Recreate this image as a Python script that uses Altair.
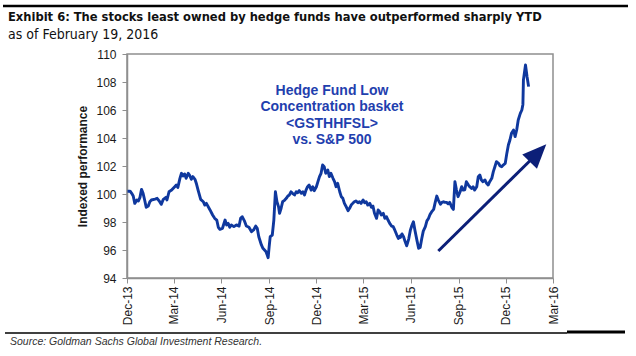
import altair as alt
import pandas as pd

# ---- data ----
dates = [
    "2013-12-02", "2013-12-07", "2013-12-10", "2013-12-13", "2013-12-16", "2013-12-20", "2013-12-23",
    "2013-12-26", "2013-12-29", "2014-01-01", "2014-01-04", "2014-01-07", "2014-01-11", "2014-01-14",
    "2014-01-17", "2014-01-24", "2014-01-28", "2014-02-02", "2014-02-05", "2014-02-09", "2014-02-14",
    "2014-02-16", "2014-02-20", "2014-02-25", "2014-03-03", "2014-03-06", "2014-03-09", "2014-03-13",
    "2014-03-16", "2014-03-19", "2014-03-22", "2014-03-25", "2014-03-29", "2014-04-01", "2014-04-04",
    "2014-04-07", "2014-04-11", "2014-04-14", "2014-04-17", "2014-04-22", "2014-04-27", "2014-04-30",
    "2014-05-03", "2014-05-10", "2014-05-15", "2014-05-19", "2014-05-23", "2014-05-26", "2014-05-29",
    "2014-06-03", "2014-06-08", "2014-06-11", "2014-06-14", "2014-06-17", "2014-06-20", "2014-06-25",
    "2014-06-30", "2014-07-05", "2014-07-08", "2014-07-11", "2014-07-15", "2014-07-19", "2014-07-24",
    "2014-07-29", "2014-08-02", "2014-08-06", "2014-08-09", "2014-08-12", "2014-08-17", "2014-08-20",
    "2014-08-23", "2014-08-26", "2014-08-30", "2014-09-01", "2014-09-03", "2014-09-07", "2014-09-10",
    "2014-09-13", "2014-09-16", "2014-09-19",
    "2014-09-21", "2014-09-24", "2014-09-27", "2014-10-01", "2014-10-04", "2014-10-07", "2014-10-10",
    "2014-10-13", "2014-10-16", "2014-10-20", "2014-10-23", "2014-10-26", "2014-10-29", "2014-11-02",
    "2014-11-05", "2014-11-08", "2014-11-11", "2014-11-14", "2014-11-17", "2014-11-21", "2014-11-24",
    "2014-11-27", "2014-12-01", "2014-12-04", "2014-12-07", "2014-12-10", "2014-12-13", "2014-12-16",
    "2014-12-19", "2014-12-23", "2014-12-26", "2014-12-29", "2015-01-02", "2015-01-05", "2015-01-08",
    "2015-01-11", "2015-01-15", "2015-01-18", "2015-01-21", "2015-01-24", "2015-01-28", "2015-01-31",
    "2015-02-03", "2015-02-06", "2015-02-09", "2015-02-12", "2015-02-15", "2015-02-19", "2015-02-22",
    "2015-02-25", "2015-03-01", "2015-03-04", "2015-03-07", "2015-03-10", "2015-03-14", "2015-03-17",
    "2015-03-20", "2015-03-23", "2015-03-27", "2015-03-30", "2015-04-02", "2015-04-05", "2015-04-09",
    "2015-04-12", "2015-04-15", "2015-04-18", "2015-04-22", "2015-04-25", "2015-04-28", "2015-05-01",
    "2015-05-05", "2015-05-08", "2015-05-11",
    "2015-05-12", "2015-05-15", "2015-05-18", "2015-05-21", "2015-05-24", "2015-05-28", "2015-05-31",
    "2015-06-03", "2015-06-06", "2015-06-09", "2015-06-13", "2015-06-16", "2015-06-19", "2015-06-22",
    "2015-06-25", "2015-06-29", "2015-07-02", "2015-07-05", "2015-07-08", "2015-07-11", "2015-07-15",
    "2015-07-18", "2015-07-21", "2015-07-24", "2015-07-28", "2015-07-31", "2015-08-03", "2015-08-06",
    "2015-08-09", "2015-08-12", "2015-08-15", "2015-08-19", "2015-08-22", "2015-08-25", "2015-08-28",
    "2015-08-31", "2015-09-04", "2015-09-07", "2015-09-10", "2015-09-13", "2015-09-16", "2015-09-20",
    "2015-09-23", "2015-09-26", "2015-09-29", "2015-10-02", "2015-10-06", "2015-10-09", "2015-10-12",
    "2015-10-15", "2015-10-18", "2015-10-22", "2015-10-25", "2015-10-28", "2015-10-31", "2015-11-04",
    "2015-11-07", "2015-11-10", "2015-11-13", "2015-11-17", "2015-11-20", "2015-11-23", "2015-11-26",
    "2015-11-30", "2015-12-03", "2015-12-06", "2015-12-09", "2015-12-12", "2015-12-16", "2015-12-19",
    "2015-12-22", "2015-12-25", "2015-12-29", "2016-01-01", "2016-01-03", "2016-01-04", "2016-01-08",
    "2016-01-11", "2016-01-14",
]
values = [
    100.2, 100.2, 100.05, 99.86, 99.33, 99.57, 99.5,
    99.76, 100.33, 100.05, 99.57, 99.05, 99.14, 99.45,
    99.57, 99.64, 99.69, 99.45, 99.26, 99.62, 99.76,
    99.57, 100.16, 100.28, 100.52, 100.64, 100.47, 101.12,
    101.48, 101.29, 101.43, 101.12, 101.48, 101.31, 101.05,
    101.24, 101.05, 100.71, 100.28, 99.62, 99.45, 99.21,
    99.33, 98.86, 98.5, 98.26, 98.14, 97.62, 97.48,
    97.55, 98.14, 97.79, 97.9, 97.62, 97.79, 97.67,
    97.79, 97.71, 98.26, 98.38, 98.1, 97.71, 97.62,
    97.31, 97.43, 97.71, 97.55, 96.95, 96.36, 96.12,
    96.0, 95.88, 95.45, 96.24, 96.95, 97.07, 98.14,
    100.16, 99.45, 99.1,
    98.62, 98.98, 99.45, 99.57, 99.69, 99.86, 99.93,
    100.16, 100.05, 99.93, 100.16, 100.09, 100.24, 100.05,
    100.16, 99.93, 100.28, 100.52, 100.64, 100.28, 100.52,
    100.24, 100.52, 100.88, 101.24, 101.48, 102.07, 101.95,
    101.48, 101.71, 101.24, 101.48, 101.12, 100.88, 100.52,
    100.76, 100.16, 99.81, 99.69, 99.33, 99.05, 98.81,
    98.98, 99.21, 99.33, 99.45, 99.5, 99.38, 99.45,
    99.33, 99.57, 99.38, 99.45, 99.21, 99.33, 99.05,
    99.14, 98.62, 98.26, 98.86, 98.74, 98.5, 98.62,
    98.26, 98.38, 98.14, 97.86, 97.71, 97.67, 97.43,
    97.07, 96.83, 97.0,
    96.9, 97.15, 96.95, 96.6, 96.3, 96.8, 97.4,
    97.75, 98.02, 97.4, 96.65, 96.12, 96.18, 96.8,
    97.35, 97.67, 98.08, 98.25, 98.53, 98.72, 98.9,
    99.4, 99.85, 99.57, 99.27, 99.4, 99.45, 99.4,
    99.4, 99.3, 99.4, 99.05, 98.9, 100.88, 100.28,
    99.81, 100.16, 100.52, 100.28, 100.3, 100.88, 100.64,
    100.5, 100.4, 100.52, 100.28, 100.52, 101.24, 101.36,
    101.0, 100.88, 101.0, 100.76, 100.64, 100.88, 101.12,
    101.6, 101.95, 102.31, 102.19, 102.0, 101.95, 102.07,
    102.19, 102.9, 103.5, 103.86, 104.33, 104.57, 104.1,
    104.57, 105.29, 105.76, 106.0, 106.4, 108.14, 109.21,
    108.38, 107.67,
]

tick_dates = ["2013-12-01", "2014-03-01", "2014-06-01", "2014-09-01", "2014-12-01",
              "2015-03-01", "2015-06-01", "2015-09-01", "2015-12-01", "2016-03-01"]
y_ticks = [94, 96, 98, 100, 102, 104, 106, 108, 110]

title_text = "Exhibit 6: The stocks least owned by hedge funds have outperformed sharply YTD"
subtitle_text = "as of February 19, 2016"
source_text = "Source: Goldman Sachs Global Investment Research."
y_title = "Indexed performance"
note_lines = ["Hedge Fund Low", "Concentration basket", "<GSTHHFSL>", "vs. S&P 500"]
note_date = ["2014-12-31"]
note_value = [107.36]

arrow_dates = ["2015-07-24", "2016-01-20"]
arrow_values = [95.93, 102.5]
head_date = ["2016-02-01"]
head_value = [102.93]

# ---- tables ----
df = pd.DataFrame({"date": dates, "value": values})
arrow_df = pd.DataFrame({"date": arrow_dates, "value": arrow_values})
head_df = pd.DataFrame({"date": head_date, "value": head_value})
note_df = pd.DataFrame({"date": note_date, "value": note_value, "text": [note_lines]})

def dt(s):
    y, m, d = (int(p) for p in s.split("-"))
    return alt.DateTime(year=y, month=m, date=d)

x_scale = alt.Scale(domain=[dt(tick_dates[0]), dt(tick_dates[-1])])
y_scale = alt.Scale(domain=[94, 110], nice=False, zero=False)

LINE = "#0f389e"
NAVY = "#0c1f78"
BLUE_TXT = "#1f40ae"
GRAY = "#8f8f8f"
FONT = "Liberation Sans"
NARROW = "Liberation Sans Narrow, DejaVu Sans Condensed, Liberation Sans"

x_axis = alt.Axis(values=[dt(t) for t in tick_dates], format="%b-%y",
                  labelAngle=270, labelFontSize=12, labelFont=FONT,
                  labelColor="#1a1a1a", tickSize=5, tickColor=GRAY,
                  domainColor=GRAY, domainWidth=1.5, labelPadding=3,
                  grid=False, title=None, labelOverlap=False,
                  labelFlush=False, labelBound=False)
y_axis = alt.Axis(values=y_ticks, labelFontSize=12, labelFont=FONT,
                  labelColor="#1a1a1a", tickSize=5, tickColor=GRAY,
                  domainColor=GRAY, domainWidth=1.5, labelPadding=6,
                  labelOverlap=False, labelFlush=False, labelBound=False,
                  grid=False, title=y_title, titleFont=FONT,
                  titleFontSize=12, titleFontWeight="bold",
                  titleColor="#1a1a1a", titlePadding=6)

def X():
    return alt.X("date:T", scale=x_scale, axis=x_axis)

def Y():
    return alt.Y("value:Q", scale=y_scale, axis=y_axis)

line = alt.Chart(df).mark_line(color=LINE, strokeWidth=2.9, strokeJoin="round").encode(
    x=X(), y=Y())

arrow = alt.Chart(arrow_df).mark_line(color=NAVY, strokeWidth=3).encode(x=X(), y=Y())

head = alt.Chart(head_df).mark_point(
    shape="M0,-1 L0.85,1 L-0.85,1 Z", size=576, angle=44, filled=True,
    color=NAVY, opacity=1, strokeWidth=0).encode(x=X(), y=Y())

note = alt.Chart(note_df).mark_text(
    font=FONT, fontSize=14, fontWeight="bold", color=BLUE_TXT, align="center",
    baseline="middle", lineHeight=16.5).encode(x=X(), y=Y(), text="text")

title = alt.Chart(pd.DataFrame({"t": [title_text]})).mark_text(
    font=NARROW, fontSize=12.8, fontWeight="bold", color="#111", align="left",
    baseline="alphabetic").encode(x=alt.value(-119), y=alt.value(-33), text="t:N")

subtitle = alt.Chart(pd.DataFrame({"t": [subtitle_text]})).mark_text(
    font=NARROW, fontSize=14, color="#111", align="left",
    baseline="alphabetic").encode(x=alt.value(-119), y=alt.value(-15), text="t:N")

source = alt.Chart(pd.DataFrame({"t": [source_text]})).mark_text(
    font=FONT, fontSize=10.5, fontStyle="italic", color="#333", align="left",
    baseline="alphabetic").encode(x=alt.value(-117), y=alt.value(291), text="t:N")

top_rule = alt.Chart(pd.DataFrame({"a": [0]})).mark_rule(color="#000", strokeWidth=2.5).encode(
    x=alt.value(-124), x2=alt.value(501), y=alt.value(-48))
bottom_thin = alt.Chart(pd.DataFrame({"a": [0]})).mark_rule(color="#000", strokeWidth=1.5).encode(
    x=alt.value(-122), x2=alt.value(440), y=alt.value(279))
bottom_thick = alt.Chart(pd.DataFrame({"a": [0]})).mark_rule(color="#000", strokeWidth=3).encode(
    x=alt.value(440), x2=alt.value(498), y=alt.value(278))

chart = alt.layer(line, arrow, head, note, title, subtitle, source,
                  top_rule, bottom_thin, bottom_thick).properties(
    width=426, height=224,
    autosize=alt.AutoSizeParams(type="none"),
    padding={"left": 127, "top": 54, "right": 83, "bottom": 78},
    background="white",
).configure_view(stroke=GRAY, strokeWidth=1.5).configure_axisY(labelOverlap=False)

chart.save("out.html", embed_options={"renderer": "svg", "actions": False})
